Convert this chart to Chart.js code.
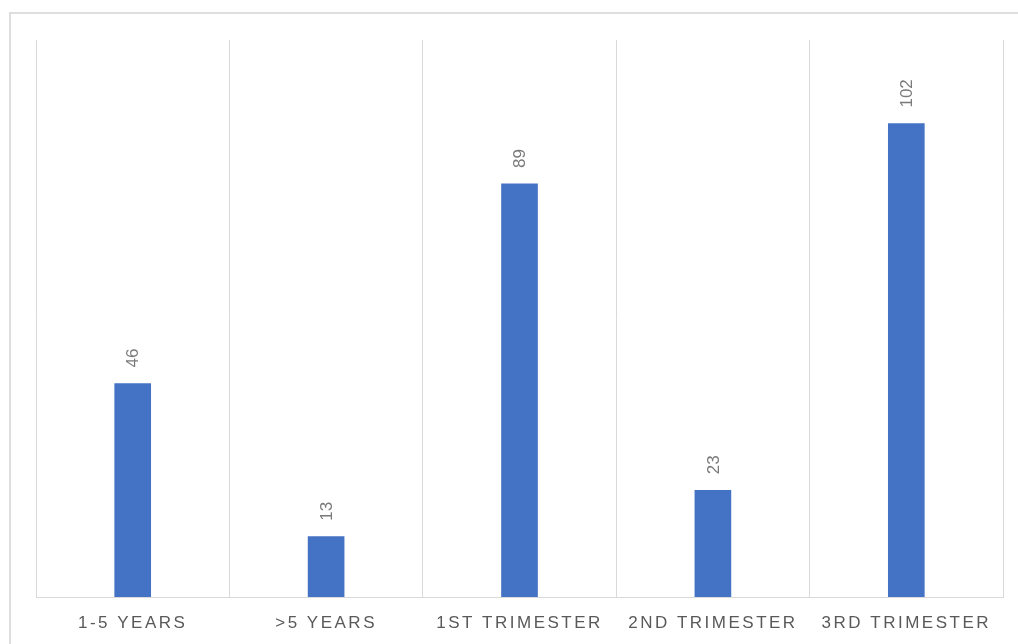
<!DOCTYPE html>
<html>
<head>
<meta charset="utf-8">
<title>Cases by group</title>
<script src="https://cdn.jsdelivr.net/npm/chart.js@4.4.0/dist/chart.umd.min.js"></script>
<style>
    html, body {
        margin: 0;
        padding: 0;
        background: #ffffff;
        overflow: hidden;
    }
    #frame {
        position: absolute;
        left: 9px;
        top: 12px;
        width: 1040px;
        height: 700px;
        border: 2px solid #dedede;
        box-sizing: border-box;
    }
    #wrap {
        position: absolute;
        left: 0;
        top: 0;
        width: 1018px;
        height: 644px;
    }
</style>
</head>
<body>
<div id="frame"></div>
<div id="wrap"><canvas id="chart"></canvas></div>
<script>
// Categories and counts
const categories = ['1-5 YEARS', '>5 YEARS', '1ST TRIMESTER', '2ND TRIMESTER', '3RD TRIMESTER'];
const counts = [46, 13, 89, 23, 102];

const FONT = "'Liberation Sans', Arial, sans-serif";

// Spaced-out category labels on the x axis, plain digits for values
const letterSpacingPlugin = {
    id: 'letterSpacing',
    beforeDraw(chart) {
        chart.ctx.letterSpacing = '2.5px';
    },
    beforeDatasetsDraw(chart) {
        chart.ctx.letterSpacing = '0px';
    }
};

// Rotated value labels above each bar
const valueLabels = {
    id: 'valueLabels',
    afterDatasetsDraw(chart) {
        const ctx = chart.ctx;
        const meta = chart.getDatasetMeta(0);
        ctx.save();
        ctx.letterSpacing = '0px';
        ctx.fillStyle = '#7a7a7a';
        ctx.font = '17px ' + FONT;
        ctx.textAlign = 'left';
        ctx.textBaseline = 'middle';
        meta.data.forEach((bar, i) => {
            ctx.save();
            ctx.translate(bar.x, bar.y - 16);
            ctx.rotate(-Math.PI / 2);
            ctx.fillText(String(counts[i]), 0, 1);
            ctx.restore();
        });
        ctx.restore();
    }
};

new Chart(document.getElementById('chart'), {
    type: 'bar',
    data: {
        labels: categories,
        datasets: [{
            data: counts,
            backgroundColor: '#4472c4',
            borderWidth: 0,
            barThickness: 36
        }]
    },
    options: {
        responsive: true,
        maintainAspectRatio: false,
        animation: false,
        layout: {
            padding: { left: 36, right: 15, top: 40, bottom: 0 }
        },
        plugins: {
            legend: { display: false },
            tooltip: { enabled: false }
        },
        scales: {
            x: {
                offset: true,
                grid: {
                    offset: true,
                    color: '#d9d9d9',
                    lineWidth: 1,
                    drawTicks: false
                },
                border: {
                    color: '#d9d9d9',
                    width: 1
                },
                ticks: {
                    color: '#595959',
                    font: { family: FONT, size: 17 },
                    padding: 16,
                    maxRotation: 0,
                    autoSkip: false
                },
                afterFit(scale) {
                    scale.height = 47;
                }
            },
            y: {
                display: false,
                min: 0,
                max: 120
            }
        }
    },
    plugins: [letterSpacingPlugin, valueLabels]
});
</script>
</body>
</html>
